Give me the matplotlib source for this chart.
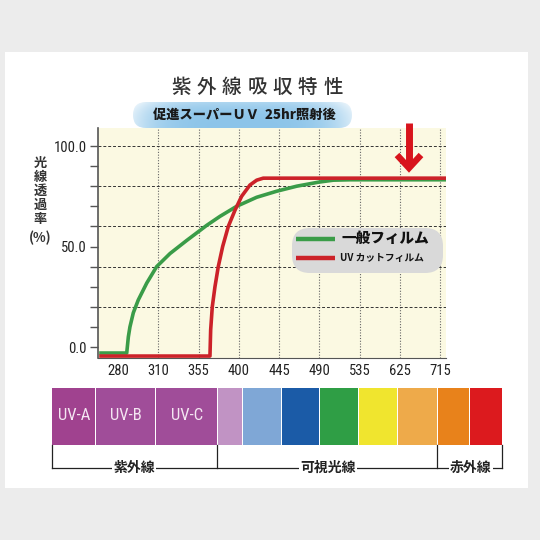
import numpy as np
import matplotlib.pyplot as plt
from matplotlib import font_manager
from matplotlib.patches import FancyBboxPatch, Rectangle

plt.rcParams['font.family'] = ['Noto Sans CJK JP', 'DejaVu Sans']

# pick a narrow latin face for the numbers if one is around
_fonts = font_manager.fontManager.ttflist
_names = {f.name for f in _fonts}
NARROW = {'family': ['Liberation Sans', 'DejaVu Sans'], 'stretch': 'normal', 'scale': 0.9}
for cand in ['Liberation Sans Narrow', 'Roboto Condensed', 'Open Sans Condensed', 'Noto Sans Condensed']:
    if cand in _names:
        NARROW = {'family': [cand, 'DejaVu Sans'], 'stretch': 'normal', 'scale': 1.0}
        break
else:
    for f in _fonts:
        if f.name in ('Roboto', 'Noto Sans', 'Open Sans', 'DejaVu Sans') and 'condensed' in str(f.stretch):
            NARROW = {'family': [f.name, 'DejaVu Sans'], 'stretch': f.stretch, 'scale': 1.0}
            break


def narrow(size):
    return dict(family=NARROW['family'], fontstretch=NARROW['stretch'], fontsize=size * NARROW['scale'])


# wavelength ticks (nm), spaced evenly on the axis
wavelengths = [280, 310, 355, 400, 445, 490, 535, 625, 715]

# transmittance curves: wavelength (nm) / percent
normal_nm = [266, 286.5, 287.7, 288.9, 291.4, 295.1, 301.4, 308.8, 323.1, 341.7, 356.6, 364.0,
             378.9, 390.1, 397.5, 419.9, 442.2, 464.5, 488.7, 505.4, 524.1, 730]
normal_pct = [-3, -3, 5, 10, 17, 23.4, 31.8, 40, 46.5, 53, 58, 60.5,
              65, 68, 70, 74.5, 77.5, 80, 82, 83, 83.2, 83.2]
uvcut_nm = [266, 367.7, 368.5, 370.3, 373.3, 377.0, 381.9, 388.2, 395.6, 403.1, 412.4, 419.9, 427.2, 730]
uvcut_pct = [-4.5, -4.5, 8.5, 20, 30, 40, 50, 60, 68, 75, 80.6, 83, 84, 84]

series_names = ['一般フィルム', 'UV カットフィルム']
series_colors = ['#3a9c48', '#cc2229']

# spectrum strip
band_names = ['UV-A', 'UV-B', 'UV-C', '', '', '', '', '', '', '', '']
band_colors = ['#a0428f', '#a04d99', '#a04d99', '#c193c4', '#7fa7d6', '#1b5ba7',
               '#2f9e45', '#f0e52e', '#eeaa4a', '#e8821b', '#dc1a1e']
region_names = ['紫外線', '可視光線', '赤外線']

title = '紫外線吸収特性'
subtitle = '促進スーパーＵＶ  25hr照射後'
ylabel_chars = ['光', '線', '透', '過', '率', '(%)']

fig = plt.figure(figsize=(5.4, 5.4), dpi=100)
fig.patch.set_facecolor('#ececec')

# background layer in pixel coordinates
bg = fig.add_axes([0, 0, 1, 1], zorder=0)
bg.set_xlim(0, 540)
bg.set_ylim(540, 0)
bg.axis('off')
bg.add_patch(Rectangle((5, 52), 523, 436, facecolor='white', edgecolor='none'))

# ---- main chart ----
ax = fig.add_axes([98 / 540, 1 - 358 / 540, 348 / 540, 230 / 540], zorder=1)
ax.set_facecolor('#fbf9e2')

knots_nm = [250] + wavelengths + [805]
knots_pos = np.arange(-1, len(wavelengths) + 1)


def fwd(x):
    return np.interp(x, knots_nm, knots_pos)


def inv(p):
    return np.interp(p, knots_pos, knots_nm)


ax.set_xscale('function', functions=(fwd, inv))
x0, x1 = inv(-0.496), inv(8.14)
ax.set_xlim(x0, x1)
ax.set_ylim(-5.47, 108.96)

ax.vlines(wavelengths[1:], -5.47, 108.96, colors='#666666', linewidth=0.8,
          linestyles=(0, (1, 1.5)), zorder=1)
ax.hlines([20, 40, 60, 80, 100], x0, x1, colors='#333333',
          linewidth=0.7, linestyles=(0, (3, 2)), zorder=1)

ax.plot(normal_nm, normal_pct, color=series_colors[0], linewidth=2.6, zorder=3,
        solid_capstyle='butt', solid_joinstyle='round')
ax.plot(uvcut_nm, uvcut_pct, color=series_colors[1], linewidth=2.6, zorder=4,
        solid_capstyle='butt', solid_joinstyle='round')

ax.set_xticks(wavelengths)
ax.set_xticklabels([str(w) for w in wavelengths], color='#222222', **narrow(10.5))
ax.tick_params(axis='x', length=0, pad=4)
ax.set_xticks([], minor=True)

ax.set_yticks(range(0, 101, 10))
ax.set_yticklabels(['0.0' if v == 0 else '50.0' if v == 50 else '100.0' if v == 100 else ''
                    for v in range(0, 101, 10)], color='#222222', **narrow(10.5))
ax.tick_params(axis='y', length=6, width=1, color='#555555', pad=2)

for side in ['top', 'right']:
    ax.spines[side].set_visible(False)
ax.spines['left'].set_color('#555555')
ax.spines['left'].set_linewidth(1.2)
ax.spines['bottom'].set_color('#555555')

# ---- overlay: titles, legend, arrow, spectrum ----
top = fig.add_axes([0, 0, 1, 1], zorder=3)
top.set_xlim(0, 540)
top.set_ylim(540, 0)
top.axis('off')
top.patch.set_alpha(0)

# title with wide letter spacing
for i, ch in enumerate(title):
    top.text(181 + i * 25.3, 93, ch, fontsize=14, fontweight='medium', color='#333333',
             ha='center', va='baseline')

# rounded blue label
gx = np.linspace(-1, 1, 200)
gy = np.linspace(0, 1, 40)
GX, GY = np.meshgrid(gx, gy)
mix = np.clip(0.15 + 0.55 * GX ** 4 + 0.25 * (1 - GY) ** 3, 0, 1)
base = np.array([0.47, 0.73, 0.90])
img = base * (1 - mix[..., None]) + mix[..., None]
grad = top.imshow(img, extent=(133, 352, 128, 102), aspect='auto', zorder=2)
grad.set_clip_path(FancyBboxPatch((133, 102), 219, 26, boxstyle='round,pad=0,rounding_size=13',
                                  transform=top.transData))
top.text(244, 119, subtitle, fontsize=9.5, fontweight='heavy', color='#1a1a1a',
         ha='center', va='baseline', zorder=3)

# vertical axis label
for ch, y in zip(ylabel_chars, [163, 177, 191, 205, 219, 238]):
    top.text(40, y, ch, fontsize=9.5, fontweight='bold', color='#333333',
             ha='center', va='center')

# legend box
top.add_patch(FancyBboxPatch((292, 228), 151, 45, boxstyle='round,pad=0,rounding_size=18',
                             facecolor='#d9d9d9', edgecolor='none', zorder=2))
top.plot([296, 335], [239, 239], color=series_colors[0], linewidth=3.2, zorder=3,
         solid_capstyle='butt')
top.plot([296, 335], [258, 258], color=series_colors[1], linewidth=3.2, zorder=3,
         solid_capstyle='butt')
top.text(342, 243, series_names[0], fontsize=10.5, fontweight='heavy', color='#111111',
         ha='left', va='baseline', zorder=3)
top.text(340, 261, series_names[1], fontsize=7, fontweight='bold', color='#111111',
         ha='left', va='baseline', zorder=3)

# red arrow
arrow_red = '#d8141c'
top.plot([409, 409], [123, 165], color=arrow_red, linewidth=5, solid_capstyle='butt', zorder=4)
top.plot([397, 409, 421], [155, 168, 155], color=arrow_red, linewidth=4.6,
         solid_joinstyle='miter', solid_capstyle='butt', zorder=4)

# spectrum strip
edges = [52, 96, 156, 218, 243, 282, 320, 359, 398, 438, 470, 503]
for i, (name, col) in enumerate(zip(band_names, band_colors)):
    e0, e1 = edges[i], edges[i + 1]
    top.add_patch(Rectangle((e0, 388), e1 - e0 - 1.5, 57, facecolor=col, edgecolor='none'))
    if name:
        top.text((e0 + e1) / 2, 416, name, color='#f4e6f2',
                 ha='center', va='center', **narrow(12))

# brackets under the strip
for x in [52, 217, 437, 502]:
    top.plot([x, x], [445, 468], color='#222222', linewidth=0.9)
top.plot([52, 502], [468, 468], color='#222222', linewidth=0.9)
for name, x in zip(region_names, [134, 328, 471]):
    top.text(x, 468, name, fontsize=10, fontweight='bold', color='#222222',
             ha='center', va='center',
             bbox=dict(facecolor='white', edgecolor='none', pad=0.6))

fig.savefig('out.png', dpi=100)
